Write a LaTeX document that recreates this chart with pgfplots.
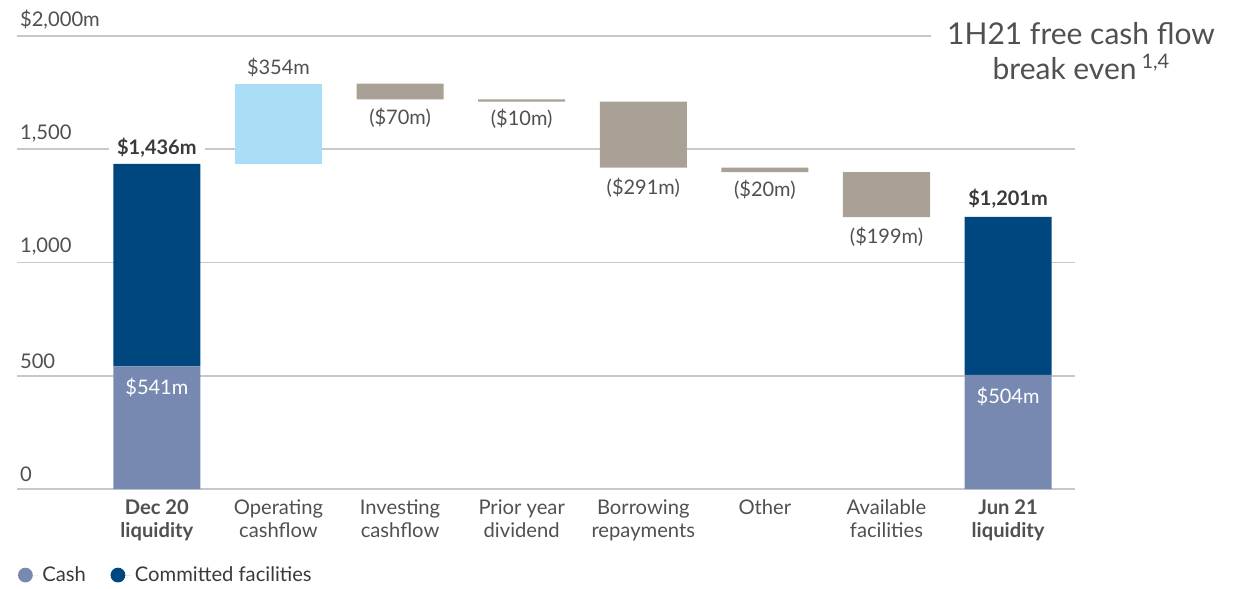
\documentclass[border=0pt]{standalone}
\usepackage{pgfplots}
\pgfplotsset{compat=1.18}
\usepackage{fontspec}
\setmainfont{Lato}
\definecolor{navy}{HTML}{00477F}
\definecolor{cashc}{HTML}{7889B1}
\definecolor{opc}{HTML}{AADEF6}
\definecolor{taupe}{HTML}{A9A195}
\definecolor{gridc}{HTML}{C8C8C8}
\definecolor{textc}{HTML}{505050}
\definecolor{darkt}{HTML}{3A3A3A}
\tikzset{lab/.style={font=\fontsize{10}{12}\selectfont, text=textc, anchor=center, inner sep=2pt}}
\begin{document}
\begin{tikzpicture}
\path (-8.5pt,-48pt) rectangle (617.5pt,244.5pt);
\begin{axis}[
 at={(0,0)}, anchor=south west,
 scale only axis, width=529pt, height=226.5pt,
 xmin=-1.15, xmax=7.55, ymin=0, ymax=2000,
 ybar stacked, bar width=43.5pt,
 xtick={0,1,2,3,4,5,6,7},
 xticklabels={{\textbf{Dec 20}\\\textbf{liquidity}},{Operating\\cashflow},{Investing\\cashflow},{Prior year\\dividend},{Borrowing\\repayments},{Other},{Available\\facilities},{\textbf{Jun 21}\\\textbf{liquidity}}},
 ytick={0,500,1000,1500,2000},
 yticklabels={0,500,{1,000},{1,500},{\$2,000m}},
 ymajorgrids, major grid style={draw=gridc, line width=0.8pt},
 axis line style={draw=none}, major tick length=0pt,
 tick label style={font=\fontsize{10.1}{11.5}\selectfont, text=textc},
 xticklabel style={align=center, anchor=north, yshift=-2pt},
 yticklabel style={anchor=south west, xshift=-2pt, yshift=0pt},
 clip=false,
 legend columns=2,
 legend cell align=left,
 legend style={at={(0,-0.19)}, anchor=west, draw=none, fill=none, inner sep=0pt,
   font=\fontsize{10.1}{12}\selectfont, text=darkt,
   /tikz/every even column/.append style={column sep=10pt}},
]
\addplot[fill=none, draw=none, forget plot] coordinates {(0,0) (1,1436) (2,1720) (3,1710) (4,1419) (5,1399) (6,1200) (7,0)};
\addplot[fill=cashc, draw=none, legend image code/.code={\fill[cashc] (4pt,0pt) circle (3.7pt); \path (0pt,0pt) -- (10.5pt,0pt);}] coordinates {(0,541) (1,0) (2,0) (3,0) (4,0) (5,0) (6,0) (7,504)};
\addlegendentry{Cash}
\addplot[fill=navy, draw=none, legend image code/.code={\fill[navy] (4pt,0pt) circle (3.7pt); \path (0pt,0pt) -- (10.5pt,0pt);}] coordinates {(0,895) (1,0) (2,0) (3,0) (4,0) (5,0) (6,0) (7,697)};
\addlegendentry{Committed facilities}
\addplot[fill=opc, draw=none, forget plot] coordinates {(0,0) (1,354) (2,0) (3,0) (4,0) (5,0) (6,0) (7,0)};
\addplot[fill=taupe, draw=none, forget plot] coordinates {(0,0) (1,0) (2,70) (3,10) (4,291) (5,20) (6,199) (7,0)};
\node[lab, fill=white, text=darkt, yshift=8pt, inner sep=4pt] at (axis cs:0,1436) {\textbf{\$1,436m}};
\node[lab, yshift=8pt] at (axis cs:1,1790) {\$354m};
\node[lab, yshift=-9pt] at (axis cs:2,1720) {(\$70m)};
\node[lab, yshift=-8.5pt] at (axis cs:3,1710) {(\$10m)};
\node[lab, yshift=-10pt] at (axis cs:4,1419) {(\$291m)};
\node[lab, yshift=-9pt] at (axis cs:5,1399) {(\$20m)};
\node[lab, yshift=-10pt] at (axis cs:6,1200) {(\$199m)};
\node[lab, fill=white, text=darkt, yshift=9pt, inner sep=4pt] at (axis cs:7,1201) {\textbf{\$1,201m}};
\coordinate (cashA) at (axis cs:0,541);
\coordinate (cashB) at (axis cs:7,504);
\end{axis}
\node[lab, text=white, yshift=-10.5pt] at (cashA) {\$541m};
\node[lab, text=white, yshift=-11pt] at (cashB) {\$504m};
\node[align=center, fill=white, font=\fontsize{15}{17.5}\selectfont, text=textc, inner sep=8pt] at (532pt,219pt) {1H21 free cash flow\\break even\,{\fontsize{10}{10}\selectfont\raisebox{5.5pt}{1,4}}};
\end{tikzpicture}
\end{document}
